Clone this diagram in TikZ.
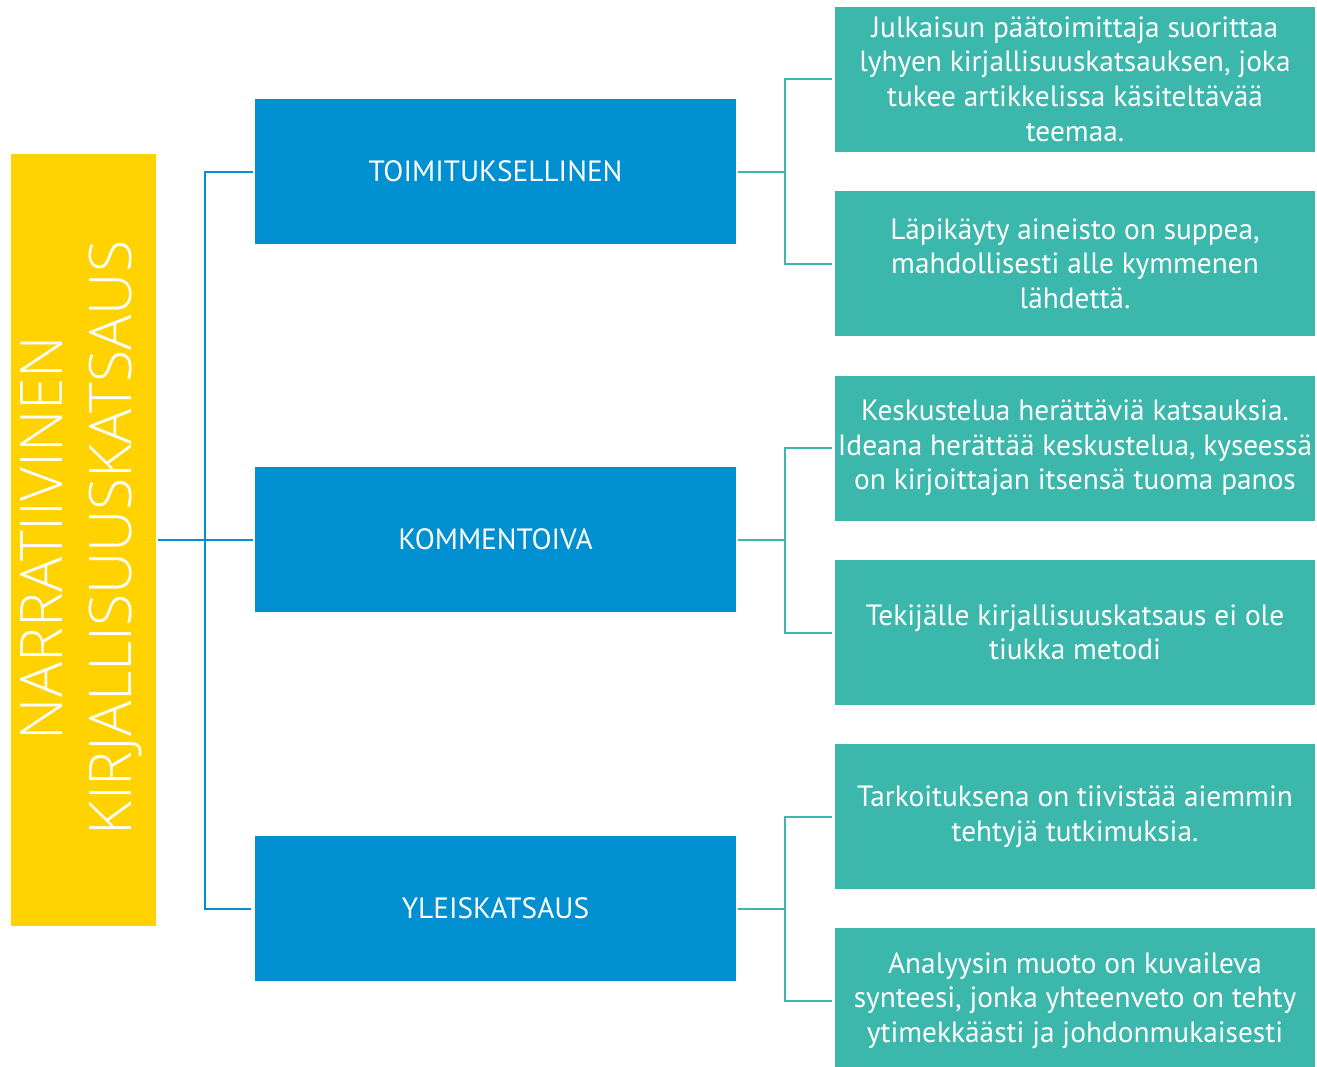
\documentclass[tikz,border=0pt]{standalone}
\usepackage{fontspec}
\setmainfont{PT Sans}
\newfontfamily\lightf{Open Sans Light}
\definecolor{ylw}{HTML}{FFD200}
\definecolor{blu}{HTML}{008FD0}
\definecolor{tea}{HTML}{3BB7AB}
\begin{document}
\begin{tikzpicture}[x=0.75pt,y=-0.75pt,
  yellowbox/.style={rectangle,fill=ylw,minimum width=108.75pt,minimum height=579pt,inner sep=0pt,text=white,align=center},
  bluebox/.style={rectangle,fill=blu,minimum width=360.75pt,minimum height=108.75pt,inner sep=0pt,text=white,align=center,font=\fontsize{22}{25.9}\selectfont},
  tealbox/.style={rectangle,fill=tea,minimum width=360pt,minimum height=108.75pt,inner sep=0pt,text=white,align=center,font=\fontsize{22}{25.9}\selectfont},
  bline/.style={draw=blu,line width=1.5pt},
  tline/.style={draw=tea,line width=1.5pt}]
\useasboundingbox (0,0) rectangle (1317,1067);
\node[yellowbox] (Y) at (83.5,540) {};
\node[rotate=90,text=white,align=center,font=\lightf\fontsize{44}{52}\selectfont] (YT) at (81,538) {NARRATIIVINEN\\KIRJALLISUUSKATSAUS};
\node[bluebox] (B1) at (495.5,171.5) {TOIMITUKSELLINEN};
\node[bluebox] (B2) at (495.5,539.5) {KOMMENTOIVA};
\node[bluebox] (B3) at (495.5,908.5) {YLEISKATSAUS};
\node[tealbox] (T1) at (1075,79) {Julkaisun päätoimittaja suorittaa\\lyhyen kirjallisuuskatsauksen, joka\\tukee artikkelissa käsiteltävää\\teemaa.};
\node[tealbox] (T2) at (1075,263.5) {Läpikäyty aineisto on suppea,\\mahdollisesti alle kymmenen\\lähdettä.};
\node[tealbox] (T3) at (1075,448) {Keskustelua herättäviä katsauksia.\\Ideana herättää keskustelua, kyseessä\\on kirjoittajan itsensä tuoma panos};
\node[tealbox] (T4) at (1075,632.5) {Tekijälle kirjallisuuskatsaus ei ole\\tiukka metodi};
\node[tealbox] (T5) at (1075,816.5) {Tarkoituksena on tiivistää aiemmin\\tehtyjä tutkimuksia.};
\node[tealbox] (T6) at (1075,1000.5) {Analyysin muoto on kuvaileva\\synteesi, jonka yhteenveto on tehty\\ytimekkäästi ja johdonmukaisesti};
\coordinate (jb) at (205,540);
\draw[bline,shorten <=1.5pt,shorten >=1.5pt] (Y.east |- B2.west) -- (B2.west);
\draw[bline,shorten >=1.5pt] (B1.west) ++(-1.5pt,0) -- (B1.west -| jb) -- (B3.west -| jb) -- ([xshift=-1.5pt]B3.west);
\foreach \b/\u/\l in {B1/T1/T2,B2/T3/T4,B3/T5/T6}{
  \coordinate (jt) at (785,0);
  \draw[tline,shorten <=1.5pt] (\b.east) -- (\b.east -| jt);
  \draw[tline] ([xshift=-2pt]\u.west) -- (\u.west -| jt) -- (\l.west -| jt) -- ([xshift=-2pt]\l.west);
}
\end{tikzpicture}
\end{document}
